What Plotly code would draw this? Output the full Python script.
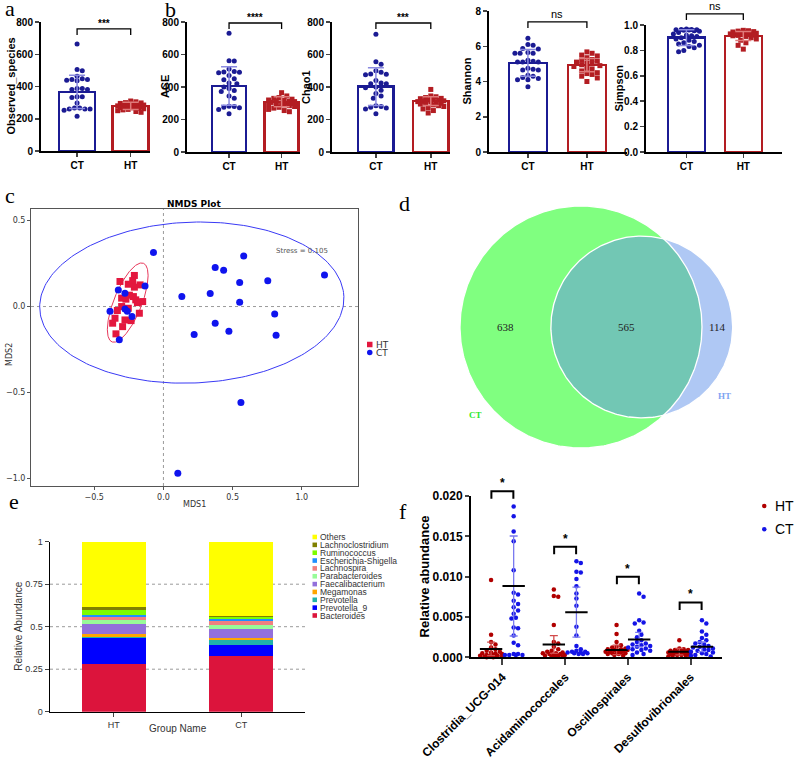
"""Gut microbiota composite figure (alpha diversity, NMDS, Venn, composition, LEfSe-style dots)."""
import math

import numpy as np
import plotly.graph_objects as go

W, H = 800, 758
SANS = "Arial, Liberation Sans, sans-serif"
SERIF = "Times New Roman, Liberation Serif, serif"
NMDS_FONT = "DejaVu Sans, Verdana, sans-serif"

CT_DARK = "#1B1B93"
HT_DARK = "#B31D22"
CT_ERR = "#8A8AE0"
HT_ERR = "#E07A7A"

# ---------------- a / b : alpha diversity ----------------
alpha_names = ["Observed_species", "ACE", "Chao1", "Shannon", "Simpson"]
alpha_groups = ["CT", "HT"]
alpha_sig = ["***", "****", "***", "ns", "ns"]

obs_ct = [663, 506, 497, 464, 448, 443, 443, 439, 435, 388, 388, 381, 381, 336, 336, 332, 298,
          267, 267, 261, 261, 261, 253, 216]
obs_ht = [310, 305, 300, 298, 295, 292, 290, 288, 285, 283, 280, 278, 276, 274, 272, 270, 268,
          265, 262, 258, 255, 250, 245, 240]
ace_ct = [730, 562, 560, 510, 495, 492, 490, 488, 470, 450, 445, 425, 420, 400, 390, 378, 372,
          345, 330, 282, 280, 276, 272, 262, 236]
ace_ht = [365, 345, 335, 330, 325, 320, 318, 315, 312, 310, 305, 302, 300, 298, 295, 292, 290,
          285, 280, 275, 270, 262, 255, 248]
chao_ct = [725, 555, 540, 500, 490, 480, 478, 475, 440, 425, 420, 420, 400, 395, 380, 360, 345,
           330, 285, 280, 275, 270, 265, 235]
chao_ht = [385, 345, 340, 335, 330, 328, 325, 320, 318, 315, 312, 310, 308, 305, 300, 298, 295,
           290, 285, 280, 272, 265, 255, 240]
shannon_ct = [6.45, 6.1, 6.05, 5.87, 5.85, 5.65, 5.6, 5.6, 5.6, 5.2, 5.15, 5.1, 5.1, 5.1, 4.75,
              4.7, 4.65, 4.65, 4.36, 4.3, 4.23, 4.17, 4.1, 4.1, 3.7]
shannon_ht = [5.68, 5.6, 5.5, 5.45, 5.35, 5.25, 5.2, 5.15, 5.1, 5.05, 5.0, 4.95, 4.9, 4.85, 4.75,
              4.7, 4.6, 4.5, 4.45, 4.4, 4.3, 4.2, 4.0]
simpson_ct = [0.968, 0.965, 0.965, 0.963, 0.962, 0.96, 0.958, 0.955, 0.95, 0.94, 0.93, 0.92,
              0.915, 0.91, 0.9, 0.89, 0.88, 0.87, 0.86, 0.85, 0.84, 0.83, 0.82, 0.8, 0.79]
simpson_ht = [0.958, 0.955, 0.952, 0.948, 0.945, 0.942, 0.94, 0.937, 0.935, 0.932, 0.93, 0.928,
              0.925, 0.92, 0.918, 0.915, 0.91, 0.9, 0.89, 0.88, 0.86, 0.84, 0.81]

alpha_mean_ct = [367, 406, 402, 5.06, 0.90]
alpha_mean_ht = [280, 309, 313, 4.93, 0.913]
alpha_sd_ct = [103, 118, 116, 0.76, 0.062]
alpha_sd_ht = [22, 31, 27, 0.38, 0.035]
alpha_bracket = [757, 794, 794, 7.38, 1.087]
alpha_ymax = [800, 800, 800, 8, 1.0]
alpha_dtick = [200, 200, 200, 2, 0.2]
alpha_fmt = ["d", "d", "d", "d", ".1f"]

# ---------------- c : NMDS ----------------
ct_mds1 = [-0.072, 0.58, 0.374, 0.435, 1.164, 0.551, 0.754, 0.133, 0.338, 0.551, 0.804, 0.374,
           0.473, 0.222, 0.814, 0.56, 0.104, -0.326, -0.278, -0.133, -0.386, -0.278, -0.261,
           -0.227, -0.319]
ct_mds2 = [0.315, 0.295, 0.227, 0.212, 0.184, 0.14, 0.15, 0.058, 0.076, 0.025, -0.043, -0.097,
           -0.144, -0.163, -0.167, -0.559, -0.971, 0.097, 0.078, 0.12, -0.027, -0.014, -0.027,
           -0.058, -0.194]
ht_mds1 = [-0.314, -0.21, -0.222, -0.254, -0.169, -0.21, -0.302, -0.271, -0.246, -0.217, -0.2,
           -0.188, -0.15, -0.333, -0.302, -0.254, -0.35, -0.367, -0.278, -0.234, -0.295, -0.343,
           -0.174]
ht_mds2 = [0.146, 0.181, 0.151, 0.13, 0.126, 0.113, 0.049, 0.043, 0.066, 0.058, 0.039, 0.023,
           0.029, -0.023, 0.0, -0.01, -0.068, -0.097, -0.078, -0.082, -0.117, -0.159, -0.039]
# ellipse: centre, first semi-axis vector, second semi-axis vector (MDS units)
ellipse_ct = [(0.205, 0.023), (1.099, 0.035), (0.023, -0.468)]
ellipse_ht = [(-0.258, 0.023), (0.1135, 0.229), (0.0937, -0.030)]
nmds_stress = 0.105

# ---------------- d : Venn ----------------
venn_sets = ["CT", "HT"]
venn_only = [638, 114]
venn_shared = 565

# ---------------- e : relative abundance ----------------
genera = ["Bacteroides", "Prevotella_9", "Prevotella", "Megamonas", "Faecalibacterium",
          "Parabacteroides", "Lachnospira", "Escherichia-Shigella", "Ruminococcus",
          "Lachnoclostridium", "Others"]
genus_colors = ["#DC143C", "#0000FF", "#20B2AA", "#FFA500", "#9370DB", "#98FB98", "#F08080",
                "#1E90FF", "#7CFC00", "#808000", "#FFFF00"]
abund_groups = ["HT", "CT"]
abund_ht = [0.280, 0.155, 0.006, 0.014, 0.063, 0.021, 0.020, 0.008, 0.029, 0.020, 0.384]
abund_ct = [0.327, 0.065, 0.027, 0.016, 0.051, 0.022, 0.025, 0.012, 0.010, 0.010, 0.435]

# ---------------- f : differential orders ----------------
orders = ["Clostridia_UCG-014", "Acidaminococcales", "Oscillospirales", "Desulfovibrionales"]
f_ht = [
    [0.0096, 0.0028, 0.0019, 0.0016, 0.0012, 0.0010, 0.0008, 0.0007, 0.0006, 0.0005, 0.0005,
     0.0004, 0.0003, 0.0003, 0.0002, 0.0002, 0.0002, 0.0001, 0.0001, 0.0001, 0.0001, 0.0, 0.0],
    [0.0084, 0.0076, 0.0075, 0.0040, 0.0019, 0.0017, 0.0013, 0.0010, 0.0008, 0.0007, 0.0006,
     0.0005, 0.0005, 0.0004, 0.0004, 0.0003, 0.0003, 0.0002, 0.0002, 0.0001, 0.0001, 0.0001],
    [0.0040, 0.0029, 0.0019, 0.0015, 0.0013, 0.0012, 0.0011, 0.0010, 0.0010, 0.0009, 0.0009,
     0.0008, 0.0008, 0.0007, 0.0007, 0.0006, 0.0006, 0.0005, 0.0005, 0.0004, 0.0004, 0.0003, 0.0002],
    [0.0021, 0.0011, 0.0010, 0.0009, 0.0009, 0.0008, 0.0008, 0.0007, 0.0007, 0.0006, 0.0006,
     0.0006, 0.0005, 0.0005, 0.0005, 0.0004, 0.0004, 0.0003, 0.0003, 0.0002, 0.0002, 0.0001, 0.0001],
]
f_ct = [
    [0.0187, 0.0175, 0.0156, 0.0144, 0.0108, 0.0080, 0.0078, 0.0070, 0.0066, 0.0062, 0.0058,
     0.0054, 0.0049, 0.0048, 0.0037, 0.0036, 0.0027, 0.0018, 0.0015, 0.0004, 0.0004, 0.0003,
     0.0003, 0.0003, 0.0003],
    [0.0119, 0.0117, 0.0106, 0.0105, 0.0097, 0.0088, 0.0079, 0.0073, 0.0064, 0.0038, 0.0027,
     0.0014, 0.0010, 0.0008, 0.0007, 0.0007, 0.0006, 0.0006, 0.0005, 0.0005, 0.0004, 0.0004],
    [0.0079, 0.0075, 0.0046, 0.0043, 0.0042, 0.0033, 0.0028, 0.0025, 0.0021, 0.0019, 0.0017,
     0.0016, 0.0015, 0.0014, 0.0013, 0.0012, 0.0011, 0.0010, 0.0009, 0.0008, 0.0006, 0.0004, 0.0003],
    [0.0046, 0.0042, 0.0032, 0.0028, 0.0024, 0.0021, 0.0019, 0.0017, 0.0016, 0.0014, 0.0013,
     0.0012, 0.0011, 0.0010, 0.0009, 0.0008, 0.0007, 0.0006, 0.0005, 0.0004, 0.0003, 0.0002, 0.0001],
]
f_mean_ht = [0.00104, 0.00158, 0.00092, 0.0007]
f_sd_ht = [0.00083, 0.0011, 0.0006, 0.0004]
f_mean_ct = [0.00884, 0.0056, 0.0022, 0.0013]
f_sd_ct = [0.0062, 0.0031, 0.0009, 0.0006]
f_bracket = [0.0206, 0.0137, 0.0100, 0.0068]
f_sig = ["*", "*", "*", "*"]
f_groups = ["HT", "CT"]


def xp(px):
    return px / W


def yp(py):
    return 1 - py / H


def ax_ref(letter, n):
    return letter if n == 1 else f"{letter}{n}"


def ax_key(letter, n):
    return f"{letter}axis" if n == 1 else f"{letter}axis{n}"


def swarm(vals, ypx, xpx, d, half):
    """Horizontal offsets (x data units) so that dots of diameter d px do not overlap."""
    placed = []
    out = np.zeros(len(vals))
    step = d * 0.5
    cands = [0.0]
    k = 1
    while k * step <= half:
        cands += [k * step, -k * step]
        k += 1
    for i in np.argsort(vals)[::-1]:
        y = vals[i] * ypx
        best, best_gap = 0.0, -1.0
        for c in cands:
            gap = min([math.hypot(c - a, y - b) for a, b in placed] or [1e9])
            if gap >= d:
                best = c
                break
            if gap > best_gap:
                best_gap, best = gap, c
        placed.append((best, y))
        out[i] = best / xpx
    return out


fig = go.Figure()
shapes, annotations, axes = [], [], {}


def label(x, y, text, size, family=SANS, color="black", weight="normal", angle=0,
          xanchor="center", yanchor="middle"):
    annotations.append(dict(xref="paper", yref="paper", x=xp(x), y=yp(y), text=text,
                            showarrow=False, textangle=angle, xanchor=xanchor, yanchor=yanchor,
                            font=dict(family=family, size=size, color=color, weight=weight)))


# ---------------- a / b ----------------
ALPHA_X = [(41, 150), (187, 300), (332, 450), (489, 627), (646, 782)]
ALPHA_Y = [(22, 151), (22, 152), (22, 152), (11, 152), (25, 152)]
ALPHA_XR = [(-0.673, 1.36), (-0.8, 1.35), (-0.8, 1.35), (-0.66, 1.68), (-0.71, 1.68)]
ALPHA_BW = [0.67, 0.65, 0.65, 0.64, 0.65]
ALPHA_TITLE_X = [10, 165, 306, 467, 619]
alpha_ct = [obs_ct, ace_ct, chao_ct, shannon_ct, simpson_ct]
alpha_ht = [obs_ht, ace_ht, chao_ht, shannon_ht, simpson_ht]

for i, name in enumerate(alpha_names):
    n = i + 1
    xa, ya = ax_ref("x", n), ax_ref("y", n)
    (x0, x1), (y0, y1) = ALPHA_X[i], ALPHA_Y[i]
    xr, ymax = ALPHA_XR[i], alpha_ymax[i]
    xpx = (x1 - x0) / (xr[1] - xr[0])
    ypx = (y1 - y0) / ymax

    fig.add_trace(go.Bar(
        x=[0, 1], y=[alpha_mean_ct[i], alpha_mean_ht[i]], width=ALPHA_BW[i],
        marker=dict(color="white", line=dict(color=[CT_DARK, HT_DARK], width=2.5)),
        xaxis=xa, yaxis=ya, showlegend=False, hoverinfo="skip"))
    for g, (vals, col, sym) in enumerate([(alpha_ct[i], CT_DARK, "circle"),
                                          (alpha_ht[i], HT_DARK, "square")]):
        off = swarm(vals, ypx, xpx, 5.2, 15)
        fig.add_trace(go.Scatter(
            x=g + off, y=vals, mode="markers",
            marker=dict(symbol=sym, size=5, color=col, line=dict(width=0)),
            xaxis=xa, yaxis=ya, showlegend=False, hoverinfo="skip"))
    for g, (m, sd, col) in enumerate([(alpha_mean_ct[i], alpha_sd_ct[i], CT_ERR),
                                      (alpha_mean_ht[i], alpha_sd_ht[i], HT_ERR)]):
        fig.add_trace(go.Scatter(
            x=[g], y=[m], mode="markers", marker=dict(size=1, color="rgba(0,0,0,0)"),
            error_y=dict(type="data", array=[sd], color=col, thickness=1.5, width=8),
            xaxis=xa, yaxis=ya, showlegend=False, hoverinfo="skip"))

    yt = alpha_bracket[i] / ymax
    yl = yt - 6 / (y1 - y0)
    shapes.append(dict(type="path", xref=xa, yref=ya + " domain",
                       path=f"M 0,{yl} L 0,{yt} L 1,{yt} L 1,{yl}",
                       line=dict(color="black", width=1.3)))
    sig = alpha_sig[i]
    annotations.append(dict(xref=xa, yref=ya + " domain", x=0.5, y=yt, text=sig,
                            showarrow=False, yanchor="bottom", yshift=0 if sig == "ns" else -2,
                            font=dict(family=SANS, size=11 if sig == "ns" else 10,
                                      weight="normal" if sig == "ns" else "bold")))

    axes[ax_key("x", n)] = dict(
        domain=[xp(x0), xp(x1)], range=list(xr), anchor=ya, tickvals=[0, 1],
        ticktext=alpha_groups, showline=True, linecolor="black", linewidth=2,
        ticks="outside", ticklen=4, tickwidth=1.5, showgrid=False, zeroline=False,
        automargin=False, tickfont=dict(family=SANS, size=10, weight="bold", color="black"))
    axes[ax_key("y", n)] = dict(
        domain=[yp(y1), yp(y0)], range=[0, ymax], anchor=xa, dtick=alpha_dtick[i],
        tickformat=alpha_fmt[i], showline=True, linecolor="black", linewidth=2,
        ticks="outside", ticklen=4, tickwidth=1.5, showgrid=False, zeroline=False,
        automargin=False, tickfont=dict(family=SANS, size=10, weight="bold", color="black"))
    label(ALPHA_TITLE_X[i], (y0 + y1) / 2, name, 11, weight="bold", angle=-90)

# ---------------- c : NMDS ----------------
C_X, C_Y = (31, 358), (209, 486)
for (cx, cy), (ux, uy), (vx, vy), col in [(*ellipse_ct, "#3A3AF5"), (*ellipse_ht, "#E8375A")]:
    t = np.linspace(0, 2 * np.pi, 241)
    fig.add_trace(go.Scatter(
        x=cx + ux * np.cos(t) + vx * np.sin(t), y=cy + uy * np.cos(t) + vy * np.sin(t),
        mode="lines", line=dict(color=col, width=1), xaxis="x6", yaxis="y6",
        showlegend=False, hoverinfo="skip"))
fig.add_trace(go.Scatter(x=ht_mds1, y=ht_mds2, mode="markers",
                         marker=dict(symbol="square", size=7, color="#E3173E"),
                         xaxis="x6", yaxis="y6", showlegend=False, hoverinfo="skip"))
fig.add_trace(go.Scatter(x=ct_mds1, y=ct_mds2, mode="markers",
                         marker=dict(symbol="circle", size=7, color="#0F14EE"),
                         xaxis="x6", yaxis="y6", showlegend=False, hoverinfo="skip"))
for s in [dict(xref="x6 domain", yref="y6", x0=0, x1=1, y0=0, y1=0),
          dict(xref="x6", yref="y6 domain", x0=0, x1=0, y0=0, y1=1)]:
    shapes.append(dict(type="line", line=dict(color="#9A9A9A", width=1, dash="dot"),
                       layer="below", **s))
annotations.append(dict(xref="x6", yref="y6", x=1.0, y=0.324, text=f"Stress = {nmds_stress}",
                        showarrow=False, font=dict(family=NMDS_FONT, size=7, color="#555")))
nmds_axis = dict(showline=True, mirror=True, linecolor="#555", linewidth=1, ticks="outside",
                 ticklen=3, tickcolor="#555", showgrid=False, zeroline=False, tickformat=".1f",
                 automargin=False, tickfont=dict(family=NMDS_FONT, size=8, color="#333"))
axes["xaxis6"] = dict(domain=[xp(C_X[0]), xp(C_X[1])], range=[-0.957, 1.406], anchor="y6",
                      tickvals=[-0.5, 0, 0.5, 1.0], **nmds_axis)
axes["yaxis6"] = dict(domain=[yp(C_Y[1]), yp(C_Y[0])], range=[-1.045, 0.568], anchor="x6",
                      tickvals=[-1.0, -0.5, 0, 0.5], **nmds_axis)
label(194, 204, "NMDS Plot", 9, family=NMDS_FONT, weight="bold")
label(194, 504, "MDS1", 8, family=NMDS_FONT, color="#333")
label(9, 355, "MDS2", 8, family=NMDS_FONT, color="#333", angle=-90)
for k, (grp, col, sym) in enumerate([("HT", "#E3173E", "rect"), ("CT", "#0F14EE", "circle")]):
    yc = 344.5 + 8 * k
    shapes.append(dict(type=sym, xref="paper", yref="paper", x0=xp(367), x1=xp(372.5),
                       y0=yp(yc + 2.75), y1=yp(yc - 2.75), fillcolor=col, line=dict(width=0)))
    label(374, yc, grp, 9, family=NMDS_FONT, color="#333", xanchor="left")

# ---------------- d : Venn ----------------
n_ct = venn_only[0] + venn_shared
n_ht = venn_only[1] + venn_shared
r1, r2 = math.sqrt(n_ct / math.pi), math.sqrt(n_ht / math.pi)


def lens_area(d):
    a1 = math.acos((d * d + r1 * r1 - r2 * r2) / (2 * d * r1))
    a2 = math.acos((d * d + r2 * r2 - r1 * r1) / (2 * d * r2))
    k = math.sqrt((-d + r1 + r2) * (d + r1 - r2) * (d - r1 + r2) * (d + r1 + r2))
    return r1 * r1 * a1 + r2 * r2 * a2 - 0.5 * k


lo, hi = abs(r1 - r2) + 1e-9, r1 + r2 - 1e-9
for _ in range(80):
    mid = (lo + hi) / 2
    if lens_area(mid) > venn_shared:
        lo = mid
    else:
        hi = mid
dist = (lo + hi) / 2

t = np.linspace(0, 2 * np.pi, 361)
xi = (dist * dist + r1 * r1 - r2 * r2) / (2 * dist)
yi = math.sqrt(r1 * r1 - xi * xi)
alpha_i = math.atan2(yi, xi)
beta_i = math.atan2(yi, xi - dist)
ta = np.linspace(-alpha_i, alpha_i, 120)
tb = np.linspace(beta_i, 2 * np.pi - beta_i, 200)
lens_x = np.concatenate([r1 * np.cos(ta), dist + r2 * np.cos(tb)])
lens_y = np.concatenate([r1 * np.sin(ta), r2 * np.sin(tb)])

for xs, ys, fill in [(r1 * np.cos(t), r1 * np.sin(t), "#80FF80"),
                     (dist + r2 * np.cos(t), r2 * np.sin(t), "#AFC8F4"),
                     (lens_x, lens_y, "#72C7B4")]:
    fig.add_trace(go.Scatter(x=xs, y=ys, mode="lines", fill="toself", fillcolor=fill,
                             line=dict(width=0, color=fill), xaxis="x7", yaxis="y7",
                             showlegend=False, hoverinfo="skip"))
for xs, ys in [(r1 * np.cos(t), r1 * np.sin(t)), (dist + r2 * np.cos(t), r2 * np.sin(t))]:
    fig.add_trace(go.Scatter(x=xs, y=ys, mode="lines", line=dict(width=1.3, color="white"),
                             xaxis="x7", yaxis="y7", showlegend=False, hoverinfo="skip"))

D_X, D_Y, D_CX, D_CY, D_R = (420, 790), (200, 470), 581, 327, 121
scale = D_R / r1
venn_pos = [(-r1 + dist - r2) / 2, (dist - r2 + r1) / 2, (r1 + dist + r2) / 2]
for xv, txt in zip(venn_pos, [venn_only[0], venn_shared, venn_only[1]]):
    annotations.append(dict(xref="x7", yref="y7", x=xv, y=0, text=str(txt), showarrow=False,
                            font=dict(family=SERIF, size=11, color="#222")))
annotations.append(dict(xref="x7", yref="y7", x=-0.876 * r1, y=-0.727 * r1, text=venn_sets[0],
                        showarrow=False, font=dict(family=SERIF, size=9, color="#2BE82B",
                                                   weight="bold")))
annotations.append(dict(xref="x7", yref="y7", x=dist + 0.913 * r2, y=-0.759 * r2,
                        text=venn_sets[1], showarrow=False,
                        font=dict(family=SERIF, size=9, color="#7EA4F2", weight="bold")))
axes["xaxis7"] = dict(domain=[xp(D_X[0]), xp(D_X[1])],
                      range=[(D_X[0] - D_CX) / scale, (D_X[1] - D_CX) / scale],
                      anchor="y7", visible=False, automargin=False)
axes["yaxis7"] = dict(domain=[yp(D_Y[1]), yp(D_Y[0])],
                      range=[(D_CY - D_Y[1]) / scale, (D_CY - D_Y[0]) / scale],
                      anchor="x7", visible=False, automargin=False)

# ---------------- e : stacked composition ----------------
E_X, E_Y = (50, 305), (541.7, 711.7)
for g, name in enumerate(genera):
    fig.add_trace(go.Bar(x=[0, 1], y=[abund_ht[g], abund_ct[g]], width=0.5,
                         marker=dict(color=genus_colors[g], line=dict(width=0)),
                         xaxis="x8", yaxis="y8", showlegend=False, hoverinfo="skip"))
for v in [0.25, 0.5, 0.75]:
    shapes.append(dict(type="line", xref="x8 domain", yref="y8", x0=0, x1=1, y0=v, y1=v,
                       layer="below", line=dict(color="#9A9A9A", width=1, dash="dot")))
axes["xaxis8"] = dict(domain=[xp(E_X[0]), xp(E_X[1])], range=[-0.5, 1.5], anchor="y8",
                      tickvals=[0, 1], ticktext=abund_groups, showline=True, linecolor="black",
                      linewidth=1.5, ticks="outside", tickson="boundaries", ticklen=4,
                      showgrid=False, zeroline=False, automargin=False,
                      tickfont=dict(family=SANS, size=9, color="#333"))
axes["yaxis8"] = dict(domain=[yp(E_Y[1]), yp(E_Y[0])], range=[0, 1], anchor="x8",
                      tickvals=[0, 0.25, 0.5, 0.75, 1], ticktext=["0", "0.25", "0.5", "0.75", "1"],
                      showline=True, linecolor="black", linewidth=1.5, ticks="outside",
                      ticklen=4, showgrid=False, zeroline=False, automargin=False,
                      tickfont=dict(family=SANS, size=9, color="#333"))
label(19, 626.7, "Relative Abundance", 10, color="#333", angle=-90)
label(177.5, 728.5, "Group Name", 10, color="#333")
for k, g in enumerate(reversed(range(len(genera)))):
    yc = 537 + 7.85 * k
    shapes.append(dict(type="rect", xref="paper", yref="paper", x0=xp(312.5), x1=xp(317),
                       y0=yp(yc + 2.3), y1=yp(yc - 2.3), fillcolor=genus_colors[g],
                       line=dict(width=0)))
    label(318, yc, genera[g], 8.5, color="#333", xanchor="left")

# ---------------- f : order-level dots ----------------
F_X, F_Y = (471, 722), (496, 657.3)
F_OFF = 0.18
fx_px = (F_X[1] - F_X[0]) / 4
fy_px = (F_Y[1] - F_Y[0]) / 0.02
for j, name in enumerate(orders):
    for g, (vals, m, sd, col, ecol) in enumerate([
            (f_ht[j], f_mean_ht[j], f_sd_ht[j], "#B00000", "#D24B4B"),
            (f_ct[j], f_mean_ct[j], f_sd_ct[j], "#1414E6", "#7A7AF0")]):
        xc = j + (-F_OFF if g == 0 else F_OFF)
        off = swarm(vals, fy_px, fx_px, 4.4, 12)
        fig.add_trace(go.Scatter(x=xc + off, y=vals, mode="markers",
                                 marker=dict(size=4.5, color=col, line=dict(width=0)),
                                 xaxis="x9", yaxis="y9", showlegend=False, hoverinfo="skip",
                                 cliponaxis=False))
        fig.add_trace(go.Scatter(x=[xc], y=[m], mode="markers",
                                 marker=dict(size=1, color="rgba(0,0,0,0)"),
                                 error_y=dict(type="data", array=[sd], color=ecol,
                                              thickness=1.3, width=4),
                                 xaxis="x9", yaxis="y9", showlegend=False, hoverinfo="skip"))
        fig.add_trace(go.Scatter(x=[xc], y=[m], mode="markers",
                                 marker=dict(symbol="line-ew", size=16,
                                             line=dict(color="black", width=2)),
                                 xaxis="x9", yaxis="y9", showlegend=False, hoverinfo="skip"))
    yt = f_bracket[j] / 0.02
    yl = yt - 7.5 / (F_Y[1] - F_Y[0])
    x0, x1 = j - 0.175, j + 0.175
    shapes.append(dict(type="path", xref="x9", yref="y9 domain",
                       path=f"M {x0},{yl} L {x0},{yt} L {x1},{yt} L {x1},{yl}",
                       line=dict(color="black", width=2)))
    annotations.append(dict(xref="x9", yref="y9 domain", x=j, y=yt, text=f_sig[j],
                            showarrow=False, yanchor="bottom", yshift=-1,
                            font=dict(family=SANS, size=12, weight="bold")))
axes["xaxis9"] = dict(domain=[xp(F_X[0]), xp(F_X[1])], range=[-0.5, 3.5], anchor="y9",
                      tickvals=[0, 1, 2, 3], ticktext=orders, tickangle=-45, showline=True,
                      linecolor="black", linewidth=2, ticks="outside", ticklen=6, tickwidth=2,
                      showgrid=False, zeroline=False, automargin=False,
                      tickfont=dict(family=SANS, size=12, weight="bold", color="black"))
axes["yaxis9"] = dict(domain=[yp(F_Y[1]), yp(F_Y[0])], range=[0, 0.02], anchor="x9",
                      tickvals=[0, 0.005, 0.01, 0.015, 0.02], tickformat=".3f", showline=True,
                      linecolor="black", linewidth=2, ticks="outside", ticklen=4, tickwidth=2,
                      showgrid=False, zeroline=False, automargin=False,
                      tickfont=dict(family=SANS, size=12, weight="bold", color="black"))
label(424, 576.5, "Relative abundance", 13, weight="bold", angle=-90)
for k, (grp, col) in enumerate(zip(f_groups, ["#B00000", "#1414E6"])):
    yc = 506 + 23.3 * k
    shapes.append(dict(type="circle", xref="paper", yref="paper", x0=xp(762), x1=xp(766.5),
                       y0=yp(yc + 2.25), y1=yp(yc - 2.25), fillcolor=col, line=dict(width=0)))
    label(773, yc, grp, 14, xanchor="left")

# ---------------- panel letters ----------------
for txt, x, y in [("a", 3, 8), ("b", 163, 10), ("c", 3, 195), ("d", 397, 203),
                  ("e", 7, 501), ("f", 397, 511)]:
    label(x, y, txt, 22, family=SERIF, xanchor="left")

fig.update_layout(
    width=W, height=H, margin=dict(l=0, r=0, t=0, b=0, autoexpand=False),
    paper_bgcolor="white", plot_bgcolor="white", barmode="stack", showlegend=False,
    font=dict(family=SANS, color="black"),
    shapes=shapes, annotations=annotations, **axes,
)
# the page body keeps its default 8px margin otherwise; pin the figure to the corner
fig.write_html("out.html", config={"displayModeBar": False, "staticPlot": True},
               post_script="document.body.style.margin = '0';")
